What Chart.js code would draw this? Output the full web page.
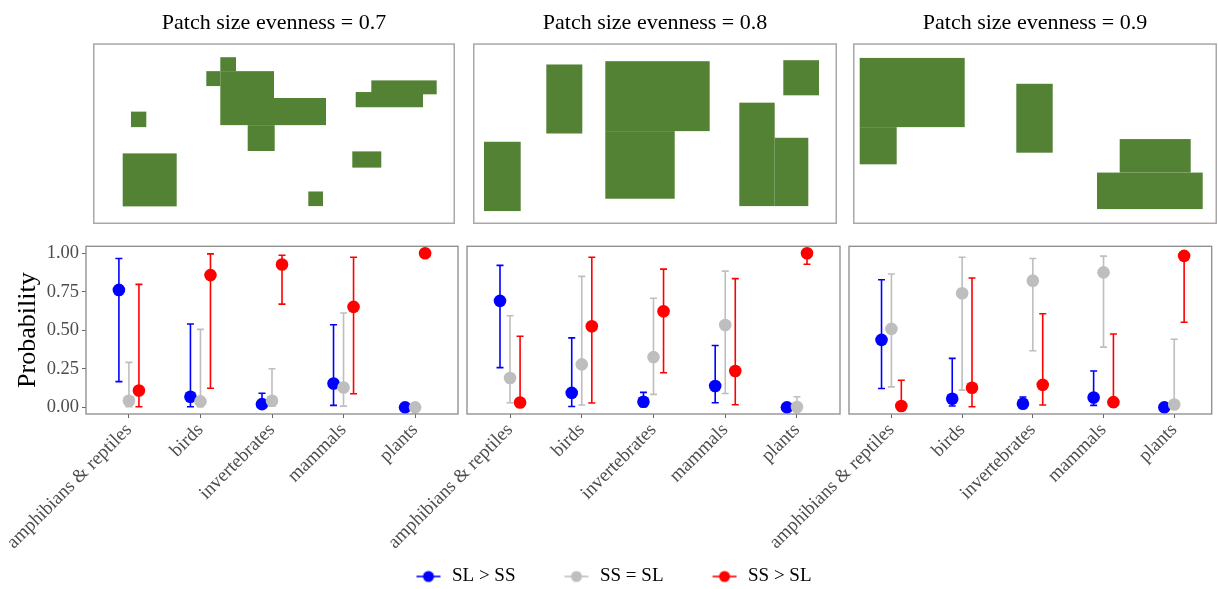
<!DOCTYPE html>
<html><head><meta charset="utf-8">
<script src="https://cdn.jsdelivr.net/npm/chart.js@4/dist/chart.umd.min.js"></script>
<style>
html,body{margin:0;padding:0;background:#fff;}
body{width:1218px;height:589px;overflow:hidden;position:relative;}
canvas{position:absolute;display:block;}
</style></head><body>
<canvas id="map1" width="362" height="224" style="left:93px;top:0px"></canvas>
<canvas id="map2" width="364" height="224" style="left:473px;top:0px"></canvas>
<canvas id="map3" width="364" height="224" style="left:853px;top:0px"></canvas>
<canvas id="plot1" width="470" height="320" style="left:0px;top:240px"></canvas>
<canvas id="plot2" width="470" height="320" style="left:380px;top:240px"></canvas>
<canvas id="plot3" width="458" height="320" style="left:760px;top:240px"></canvas>
<canvas id="legend" width="1218" height="130" style="left:0px;top:520px"></canvas>
<script>
// ---------------- DATA ----------------
const categories = ['amphibians & reptiles', 'birds', 'invertebrates', 'mammals', 'plants'];
const seriesNames = ['SL > SS', 'SS = SL', 'SS > SL'];
const evenness = ['0.7', '0.8', '0.9'];
const yTicks = [0, 0.25, 0.5, 0.75, 1];

// Patch size evenness = 0.7
const est07_SLgtSS = [0.762, 0.069, 0.021, 0.155, 0.000];
const lo07_SLgtSS  = [0.167, 0.004, 0.003, 0.013, 0.000];
const hi07_SLgtSS  = [0.966, 0.541, 0.092, 0.536, 0.001];
const est07_SSeqSL = [0.043, 0.039, 0.043, 0.129, 0.000];
const lo07_SSeqSL  = [0.005, 0.004, 0.008, 0.008, 0.000];
const hi07_SSeqSL  = [0.292, 0.506, 0.251, 0.612, 0.001];
const est07_SSgtSL = [0.109, 0.858, 0.927, 0.652, 1.000];
const lo07_SSgtSL  = [0.004, 0.124, 0.670, 0.088, 0.999];
const hi07_SSgtSL  = [0.798, 0.996, 0.987, 0.974, 1.000];

// Patch size evenness = 0.8
const est08_SLgtSS = [0.691, 0.094, 0.036, 0.139, 0.000];
const lo08_SLgtSS  = [0.258, 0.006, 0.004, 0.030, 0.000];
const hi08_SLgtSS  = [0.921, 0.451, 0.097, 0.401, 0.001];
const est08_SSeqSL = [0.191, 0.279, 0.326, 0.534, 0.002];
const lo08_SSeqSL  = [0.030, 0.015, 0.084, 0.090, 0.000];
const hi08_SSeqSL  = [0.594, 0.850, 0.708, 0.884, 0.069];
const est08_SSgtSL = [0.032, 0.526, 0.624, 0.236, 1.000];
const lo08_SSgtSL  = [0.002, 0.028, 0.225, 0.017, 0.929];
const hi08_SSgtSL  = [0.461, 0.974, 0.897, 0.835, 1.000];

// Patch size evenness = 0.9
const est09_SLgtSS = [0.438, 0.056, 0.024, 0.064, 0.000];
const lo09_SLgtSS  = [0.122, 0.009, 0.004, 0.013, 0.000];
const hi09_SLgtSS  = [0.828, 0.318, 0.067, 0.236, 0.001];
const est09_SSeqSL = [0.509, 0.740, 0.822, 0.876, 0.019];
const lo09_SSeqSL  = [0.133, 0.112, 0.367, 0.391, 0.000];
const hi09_SSeqSL  = [0.865, 0.974, 0.966, 0.981, 0.442];
const est09_SSgtSL = [0.009, 0.127, 0.146, 0.034, 0.983];
const lo09_SSgtSL  = [0.001, 0.004, 0.015, 0.004, 0.552];
const hi09_SSgtSL  = [0.176, 0.839, 0.607, 0.476, 1.000];

// Example landscapes: habitat patches [x0, x1, y0, y1] in map units (y measured downward)
const map07Patches = [
  [38.0, 53.3, 68.7, 84.3], [29.7, 83.7, 110.7, 164.0],
  [127.3, 143.0, 14.0, 28.0], [113.3, 127.3, 28.0, 43.0], [127.3, 181.0, 28.0, 82.3],
  [181.0, 233.0, 55.0, 82.3], [154.7, 181.7, 82.3, 108.3],
  [278.3, 343.7, 37.3, 51.3], [262.7, 330.0, 49.0, 64.3],
  [259.3, 288.3, 108.7, 125.0], [215.3, 230.0, 149.0, 163.7]
];
const map08Patches = [
  [11.0, 47.7, 99.0, 168.7], [73.3, 109.3, 21.3, 90.7],
  [132.3, 236.7, 18.0, 88.3], [132.3, 201.7, 88.3, 156.3],
  [310.3, 346.0, 17.0, 52.3],
  [266.3, 301.7, 59.7, 163.7], [301.7, 335.3, 95.0, 163.7]
];
const map09Patches = [
  [6.7, 111.7, 14.7, 84.3], [6.7, 43.7, 84.3, 121.7],
  [163.3, 199.7, 40.7, 110.0],
  [266.7, 337.7, 96.3, 130.0], [244.0, 349.7, 130.0, 166.7]
];
const mapWidths = [362, 364, 364];
const mapHeight = 181.7;

// ---------------- STYLE ----------------
const SERIF = "'Liberation Serif', 'Times New Roman', 'DejaVu Serif', serif";
Chart.defaults.font.family = SERIF;
const seriesColors = ['#0000FF', '#BEBEBE', '#FF0000'];
const dodge = [-0.14, 0, 0.14];

function patchPlugin(rects) {
  return {
    id: 'patches',
    afterDatasetsDraw(chart) {
      const { ctx, chartArea: a, scales: { x, y } } = chart;
      ctx.save();
      ctx.fillStyle = '#548235';
      rects.forEach(r => {
        const x0 = x.getPixelForValue(r[0]), x1 = x.getPixelForValue(r[1]);
        const y0 = y.getPixelForValue(r[2]), y1 = y.getPixelForValue(r[3]);
        ctx.fillRect(x0, Math.min(y0, y1), x1 - x0, Math.abs(y1 - y0));
      });
      ctx.strokeStyle = '#a8a8a8';
      ctx.lineWidth = 1.5;
      ctx.strokeRect(a.left + 0.75, a.top + 0.75, a.right - a.left - 1.5, a.bottom - a.top - 1.5);
      ctx.restore();
    }
  };
}

function makeMap(id, k, rects) {
  new Chart(document.getElementById(id), {
    type: 'scatter',
    data: { datasets: [{ data: [] }] },
    options: {
      responsive: false, animation: false,
      layout: { padding: 0 },
      scales: {
        x: { type: 'linear', display: false, min: 0, max: mapWidths[k] },
        y: { type: 'linear', display: false, min: 0, max: mapHeight, reverse: true }
      },
      plugins: {
        legend: { display: false }, tooltip: { enabled: false },
        title: { display: true, text: 'Patch size evenness = ' + evenness[k], color: '#000',
                 font: { size: 22, family: SERIF, weight: 'normal', lineHeight: 1.15 }, padding: { top: 11, bottom: 7 } }
      }
    },
    plugins: [patchPlugin(rects)]
  });
}

const errorBarPlugin = {
  id: 'errbars',
  beforeDatasetsDraw(chart) {
    const { ctx, scales: { x, y } } = chart;
    chart.data.datasets.forEach(ds => {
      ctx.save();
      ctx.strokeStyle = ds.backgroundColor;
      ctx.lineWidth = 1.6;
      ds.data.forEach((pt, i) => {
        const px = x.getPixelForValue(pt.x);
        const yl = y.getPixelForValue(ds.errLo[i]);
        const yh = y.getPixelForValue(ds.errHi[i]);
        ctx.beginPath();
        ctx.moveTo(px, yl); ctx.lineTo(px, yh);
        ctx.moveTo(px - 3.5, yl); ctx.lineTo(px + 3.5, yl);
        ctx.moveTo(px - 3.5, yh); ctx.lineTo(px + 3.5, yh);
        ctx.stroke();
      });
      ctx.restore();
    });
  }
};

const borderPlugin = {
  id: 'panelBorder',
  afterDraw(chart) {
    const { ctx, chartArea: a } = chart;
    ctx.save();
    ctx.strokeStyle = '#8a8a8a';
    ctx.lineWidth = 1.3;
    ctx.strokeRect(a.left, a.top, a.right - a.left, a.bottom - a.top);
    ctx.restore();
  }
};

function makePlot(id, series, yWidth, padRight, showY, xMax) {
  const datasets = series.map((s, j) => ({
    label: seriesNames[j],
    data: s.est.map((v, i) => ({ x: i + 1 + dodge[j], y: v })),
    errLo: s.lo, errHi: s.hi,
    backgroundColor: seriesColors[j], borderColor: seriesColors[j],
    pointRadius: 6.3, pointBorderWidth: 0, pointHoverRadius: 6.3,
    order: 3 - j, clip: false
  }));
  new Chart(document.getElementById(id), {
    type: 'scatter',
    data: { datasets },
    options: {
      responsive: false, animation: false,
      layout: { padding: { top: 5, right: padRight, left: 0, bottom: 0 } },
      scales: {
        x: {
          type: 'linear', min: 0.4, max: xMax, bounds: 'data',
          afterBuildTicks: s => { s.ticks = categories.map((c, i) => ({ value: i + 1 })); },
          afterFit: s => { s.height = 146; s.paddingLeft = 0; s.paddingRight = 0; },
          ticks: {
            autoSkip: false, minRotation: 45, maxRotation: 45, padding: 1,
            color: '#4d4d4d', font: { size: 19, family: SERIF },
            callback: v => categories[Math.round(v) - 1]
          },
          grid: { display: true, drawOnChartArea: false, drawTicks: true, tickLength: 4, tickColor: '#666', lineWidth: 1 },
          border: { display: false }
        },
        y: {
          type: 'linear', min: -0.043, max: 1.045,
          afterBuildTicks: s => { s.ticks = yTicks.map(v => ({ value: v })); },
          afterFit: s => { s.width = yWidth; s.paddingTop = 0; s.paddingBottom = 0; },
          ticks: {
            display: showY, padding: 3, color: '#4d4d4d', font: { size: 18.5, family: SERIF },
            callback: v => Number(v).toFixed(2)
          },
          grid: { display: showY, drawOnChartArea: false, drawTicks: true, tickLength: 4, tickColor: '#666', lineWidth: 1 },
          border: { display: false },
          title: { display: showY, text: 'Probability', color: '#000', font: { size: 26, family: SERIF }, padding: { top: 13, bottom: 0 } }
        }
      },
      plugins: { legend: { display: false }, tooltip: { enabled: false } }
    },
    plugins: [errorBarPlugin, borderPlugin]
  });
}

makeMap('map1', 0, map07Patches);
makeMap('map2', 1, map08Patches);
makeMap('map3', 2, map09Patches);

makePlot('plot1', [
  { est: est07_SLgtSS, lo: lo07_SLgtSS, hi: hi07_SLgtSS },
  { est: est07_SSeqSL, lo: lo07_SSeqSL, hi: hi07_SSeqSL },
  { est: est07_SSgtSL, lo: lo07_SSgtSL, hi: hi07_SSgtSL }
], 86, 12, true, 5.6);
makePlot('plot2', [
  { est: est08_SLgtSS, lo: lo08_SLgtSS, hi: hi08_SLgtSS },
  { est: est08_SSeqSL, lo: lo08_SSeqSL, hi: hi08_SSeqSL },
  { est: est08_SSgtSL, lo: lo08_SSgtSL, hi: hi08_SSgtSL }
], 87, 10, false, 5.6);
makePlot('plot3', [
  { est: est09_SLgtSS, lo: lo09_SLgtSS, hi: hi09_SLgtSS },
  { est: est09_SSeqSL, lo: lo09_SSeqSL, hi: hi09_SSeqSL },
  { est: est09_SSgtSL, lo: lo09_SSgtSL, hi: hi09_SSgtSL }
], 89, 1, false, 5.53);

// Legend keys: point-range glyph (short line with a dot)
function keyImage(color) {
  const c = document.createElement('canvas');
  c.width = 28; c.height = 14;
  const g = c.getContext('2d');
  g.strokeStyle = color; g.lineWidth = 1.6;
  g.beginPath(); g.moveTo(2, 7); g.lineTo(26, 7); g.stroke();
  g.fillStyle = color;
  g.beginPath(); g.arc(14, 7, 5.5, 0, Math.PI * 2); g.fill();
  return c;
}
const keyImgs = seriesColors.map(keyImage);

new Chart(document.getElementById('legend'), {
  type: 'scatter',
  data: { datasets: seriesNames.map((n, i) => ({ label: n, data: [], backgroundColor: seriesColors[i] })) },
  options: {
    responsive: false, animation: false,
    layout: { padding: { left: 8, right: 0, top: 0, bottom: 0 } },
    scales: { x: { display: false }, y: { display: false } },
    plugins: {
      tooltip: { enabled: false },
      legend: {
        display: true, position: 'top', align: 'center',
        labels: {
          usePointStyle: true, pointStyleWidth: 28, padding: 47, color: '#000',
          font: { size: 19, family: SERIF },
          generateLabels: () => seriesNames.map((n, i) => ({
            text: n, pointStyle: keyImgs[i], fillStyle: seriesColors[i], strokeStyle: seriesColors[i],
            lineWidth: 0, hidden: false, datasetIndex: i, fontColor: '#000'
          }))
        }
      }
    }
  }
});
</script>
</body></html>
